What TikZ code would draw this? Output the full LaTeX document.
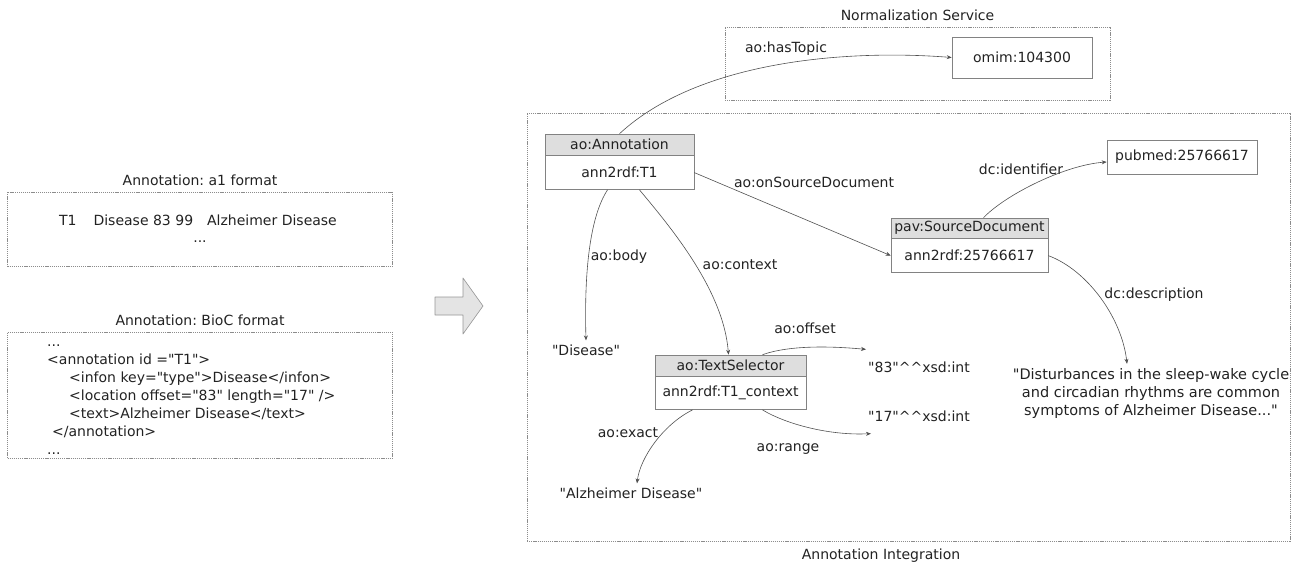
\documentclass[tikz,border=0pt]{standalone}
\usepackage{fontspec}
\setmainfont{DejaVu Sans}
\usetikzlibrary{positioning,arrows.meta}
\frenchspacing

\begin{document}
\begin{tikzpicture}[x=1pt,y=-1pt,
  every node/.style={font=\fontsize{14}{16}\selectfont, text=textColor},
  groupbox/.style={draw=boxColor, line width=0.6pt, dash pattern=on 1.2pt off 0.9pt, inner sep=0pt},
  grouptitle/.style={inner sep=0pt},
  classhead/.style={draw=frameColor, fill=headColor, line width=0.6pt, inner sep=0pt, minimum height=21},
  classbody/.style={draw=frameColor, fill=white, line width=0.6pt, inner sep=0pt, minimum height=34},
  valbox/.style={draw=frameColor, line width=0.6pt, inner sep=0pt},
  literal/.style={inner xsep=2pt, inner ysep=4pt},
  proplabel/.style={inner sep=0pt},
  prop/.style={draw=lineColor, line width=0.6pt, -{Stealth[length=5pt,width=4pt]}}]
\definecolor{textColor}{RGB}{34,34,34}
\definecolor{boxColor}{RGB}{140,140,140}
\definecolor{frameColor}{RGB}{130,130,130}
\definecolor{headColor}{RGB}{222,222,222}
\definecolor{lineColor}{RGB}{80,80,80}
\definecolor{arrowFill}{RGB}{228,228,228}
\definecolor{arrowDraw}{RGB}{150,150,150}
\path[use as bounding box] (0,0) rectangle (1303,567);

% input formats
\node[groupbox, minimum width=385, minimum height=74] (a1box) at (200,229) {};
\node[grouptitle, above=6pt of a1box] (a1title) {Annotation: a1 format};
\node[inner sep=0pt] (a1line) at (198,220) {T1\hspace{17pt}Disease 83 99\hspace{14pt}Alzheimer Disease};
\node[inner sep=0pt] (a1dots) at (200,242) {...};

\node[groupbox, minimum width=385, minimum height=126] (biocbox) at (200,395) {};
\node[grouptitle, above=6pt of biocbox] (bioctitle) {Annotation: BioC format};
\node[inner sep=0pt, align=left, anchor=north west, font=\fontsize{14}{17.9}\selectfont] (bioctext) at (47,345)
  {...\\
   <annotation id =\textquotedbl T1\textquotedbl>\\
   \hspace{22pt}<infon key=\textquotedbl type\textquotedbl>Disease</infon>\\
   \hspace{22pt}<location offset=\textquotedbl 83\textquotedbl\ length=\textquotedbl 17\textquotedbl\ />\\
   \hspace{22pt}<text>Alzheimer Disease</text>\\
   \hspace{5pt}</annotation>\\
   ...};

% block arrow
\path[fill=arrowFill, draw=arrowDraw, line width=0.6pt, line join=round]
  (435,297) -- (463,297) -- (463,278) -- (483,306) -- (463,334) -- (463,315) -- (435,315) -- cycle;

% normalization service
\node[groupbox, minimum width=385, minimum height=73] (normbox) at (917.5,63.5) {};
\node[grouptitle, above=6pt of normbox] (normtitle) {Normalization Service};
\node[valbox, minimum width=140, minimum height=41] (omim) at (1022,57.5) {omim:104300};

% annotation integration
\node[groupbox, minimum width=763, minimum height=428] (intbox) at (908.5,327) {};
\node[grouptitle] (inttitle) at (881,556) {Annotation Integration};

\node[classhead, minimum width=149] (annH) at (619.5,144.5) {ao:Annotation};
\node[classbody, minimum width=149, below=0pt of annH] (ann) {ann2rdf:T1};

\node[classhead, minimum width=157, minimum height=20] (pavH) at (969.5,228) {pav:SourceDocument};
\node[classbody, minimum width=157, below=0pt of pavH] (pav) {ann2rdf:25766617};

\node[valbox, minimum width=150, minimum height=34] (pubmed) at (1182,157) {pubmed:25766617};

\node[classhead, minimum width=151] (tsH) at (730.5,365.5) {ao:TextSelector};
\node[classbody, minimum width=151, minimum height=33, below=0pt of tsH] (ts) {ann2rdf:T1\_context};

\node[literal] (disease) at (586,350) {\textquotedbl Disease\textquotedbl};
\node[literal, anchor=west] (o83) at (866,367) {\textquotedbl 83\textquotedbl\textasciicircum\textasciicircum xsd:int};
\node[literal, anchor=west] (o17) at (866,416) {\textquotedbl 17\textquotedbl\textasciicircum\textasciicircum xsd:int};
\node[literal] (alz) at (631,493) {\textquotedbl Alzheimer Disease\textquotedbl};
\node[literal, align=center, font=\fontsize{14.5}{18}\selectfont] (desc) at (1151,393)
  {\textquotedbl Disturbances in the sleep-wake cycle\\ and circadian rhythms are common\\ symptoms of Alzheimer Disease...\textquotedbl};

% property labels
\node[proplabel] (lTopic) at (786,49) {ao:hasTopic};
\node[proplabel] (lSource) at (814,182) {ao:onSourceDocument};
\node[proplabel] (lIdent) at (1021,169) {dc:identifier};
\node[proplabel] (lDesc) at (1154,295) {dc:description};
\node[proplabel] (lBody) at (619,257) {ao:body};
\node[proplabel] (lContext) at (740,265) {ao:context};
\node[proplabel] (lOffset) at (805,328) {ao:offset};
\node[proplabel] (lExact) at (628,433) {ao:exact};
\node[proplabel] (lRange) at (788,449) {ao:range};

% properties
\draw[prop] (annH.north) .. controls +(80,-74) and +(-102,-8) .. (omim.west);
\draw[prop] (ann.east) -- (pav.west);
\draw[prop] ([xshift=14pt]pavH.north) .. controls +(22,-23) and +(-42,3) .. ([yshift=-5pt]pubmed.west);
\draw[prop] (pav.east) .. controls +(40,15) and +(-5,-45) .. ([xshift=-24pt]desc.north);
\draw[prop] ([xshift=-12pt]ann.south) .. controls +(-17,26) and +(-2,-72) .. (disease.north);
\draw[prop] ([xshift=20pt]ann.south) .. controls +(30,36) and +(-5,-65) .. ([xshift=-2pt]tsH.north);
\draw[prop] ([xshift=32pt]tsH.north) .. controls +(28,-10) and +(-32,-3) .. ([yshift=8pt]o83.north west);
\draw[prop] ([xshift=32pt]ts.south) .. controls +(25,15) and +(-40,2) .. ([xshift=5pt,yshift=-8pt]o17.south west);
\draw[prop] ([xshift=-38pt]ts.south) .. controls +(-30,15) and +(3,-25) .. ([xshift=6pt]alz.north);
\end{tikzpicture}
\end{document}
